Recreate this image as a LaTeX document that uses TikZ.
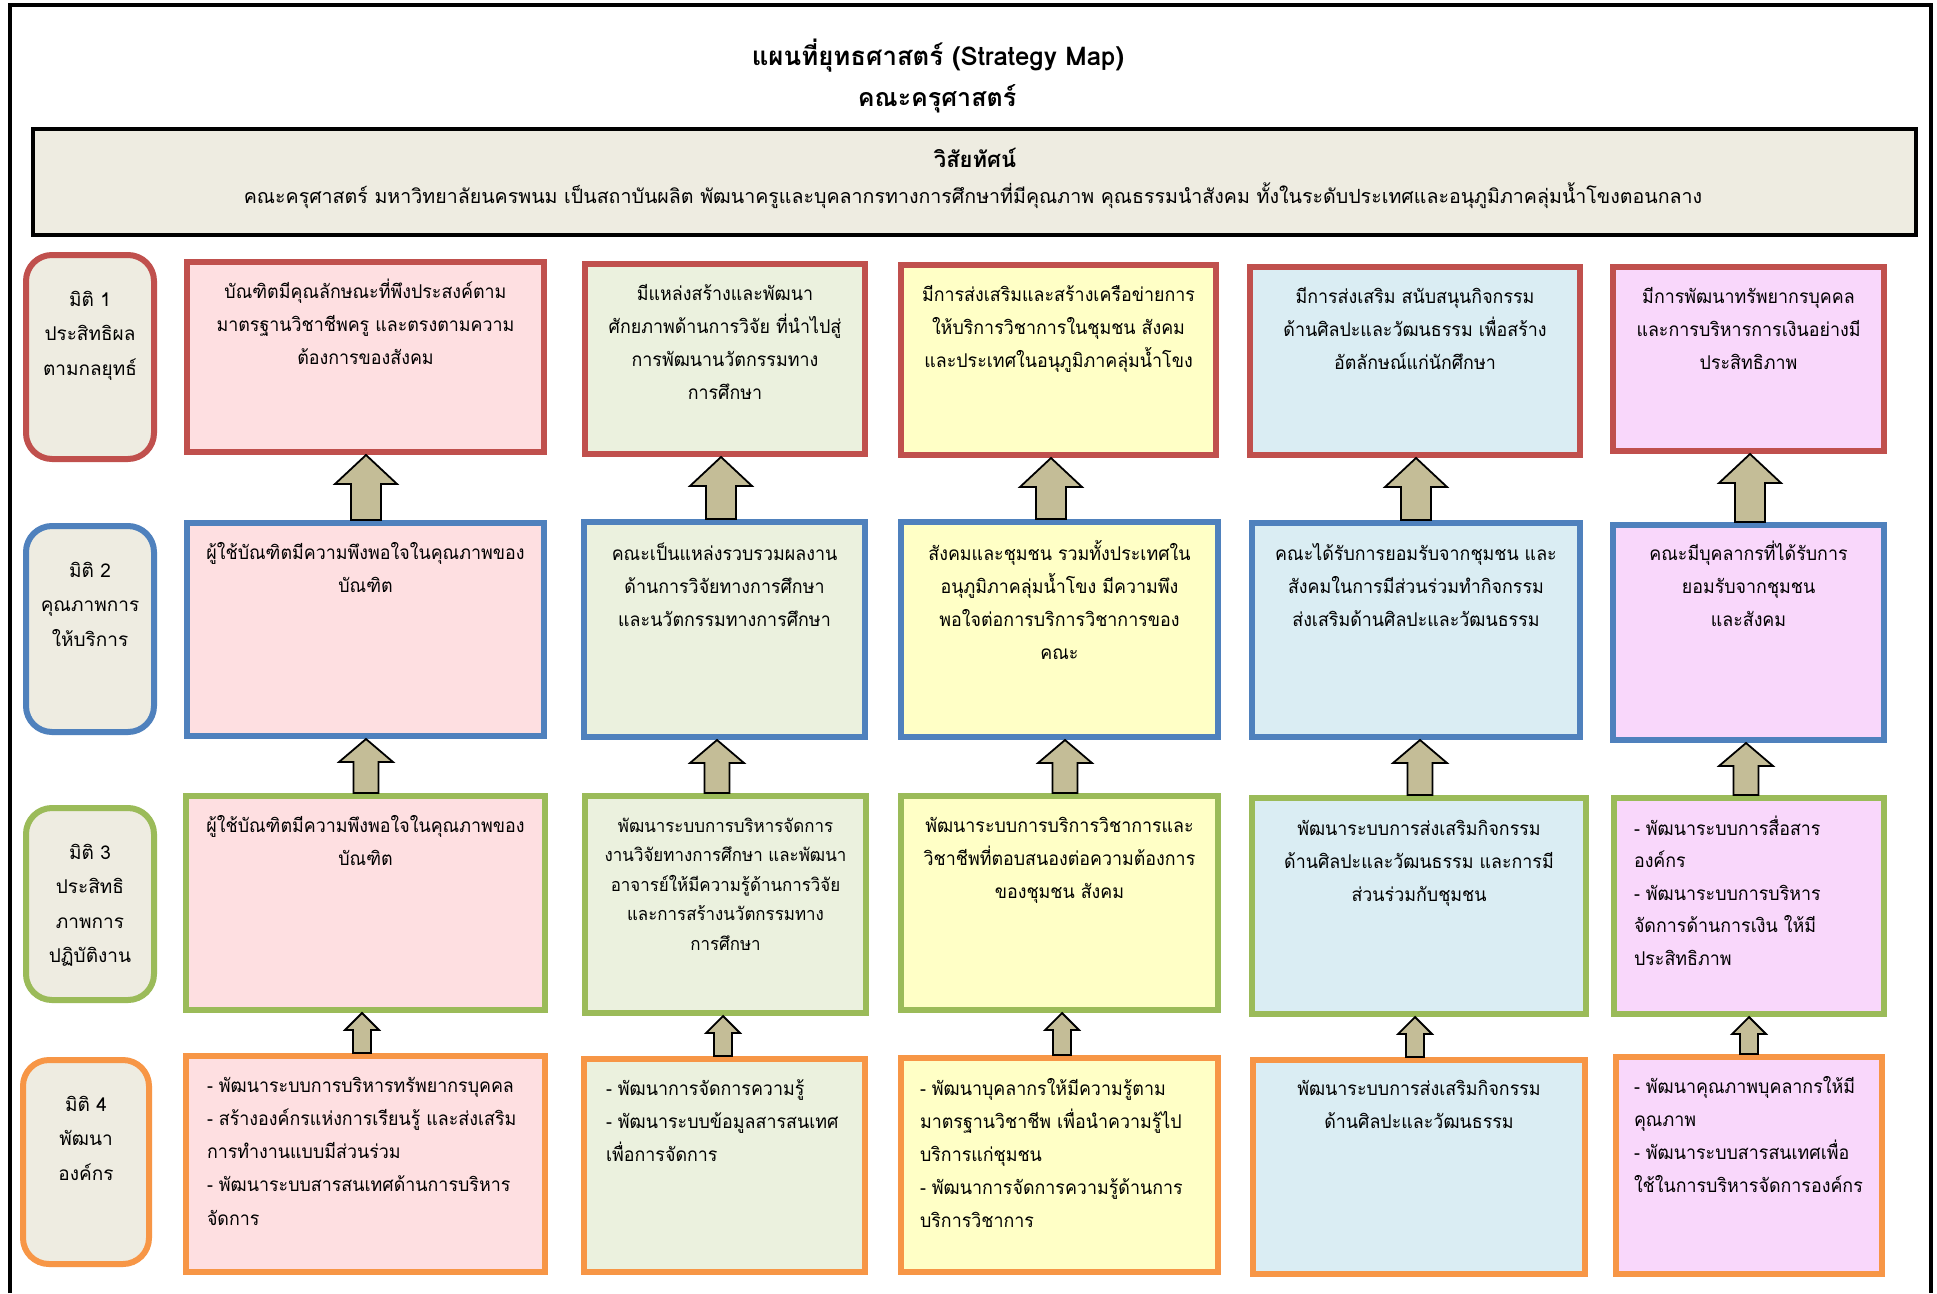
\documentclass[tikz,border=0pt]{standalone}
\usepackage{fontspec}
\setmainfont{Loma}[Script=Thai]
\newfontfamily\boxfont[Script=Thai,FakeStretch=0.94]{Loma}
\usetikzlibrary{calc}
\definecolor{redB}{HTML}{C0504D}
\definecolor{blueB}{HTML}{4F81BD}
\definecolor{greenB}{HTML}{9BBB59}
\definecolor{orangeB}{HTML}{F79646}
\definecolor{lblF}{HTML}{EEECE1}
\definecolor{pinkF}{HTML}{FEDFE1}
\definecolor{greenF}{HTML}{EBF1DE}
\definecolor{yellowF}{HTML}{FFFFC6}
\definecolor{blueF}{HTML}{DAEDF3}
\definecolor{violetF}{HTML}{F9D7FB}
\definecolor{arrowF}{HTML}{C4BD97}
\newcommand{\firststrut}[1][36]{\rule{0pt}{#1pt}}
\newcommand{\mapbox}[7]{%
  \node[mbox,#6] (#1) at ({(#2+#4)/2},{(#3+#5)/2})
    {\parbox[c][\dimexpr #5pt-#3pt-6pt\relax][t]{\dimexpr #4pt-#2pt-6pt\relax}{#7}};}
\newcommand{\blockup}[6]{%
  \draw[barrow] let \p1=(#1.north), \p2=(#2.south) in
    ({#3pt-#6pt},\y1) -- ({#3pt-#6pt},{\y2-#5pt}) -- ({#3pt-#4pt},{\y2-#5pt}) -- (#3pt,\y2)
    -- ({#3pt+#4pt},{\y2-#5pt}) -- ({#3pt+#6pt},{\y2-#5pt}) -- ({#3pt+#6pt},\y1) -- cycle;}
\tikzset{
  mbox/.style={rectangle, inner sep=0pt, line width=6pt, font=\boxfont\fontsize{19}{33}\selectfont},
  lbox/.style={mbox, rounded corners=26pt, fill=lblF, font=\rmfamily\fontsize{19}{34.5}\selectfont},
  barrow/.style={draw=black, line width=1.8pt, fill=arrowF, line join=miter},
  r1/.style={draw=redB}, r2/.style={draw=blueB}, r3/.style={draw=greenB}, r4/.style={draw=orangeB},
  c1/.style={fill=pinkF}, c2/.style={fill=greenF}, c3/.style={fill=yellowF}, c4/.style={fill=blueF}, c5/.style={fill=violetF}
}
\begin{document}
\begin{tikzpicture}[x=1pt,y=-1pt]
\useasboundingbox (0,0) rectangle (1937,1293);
\fill[white] (0,0) rectangle (1937,1293);
\draw[line width=3.5pt] (10,1293) -- (10,5) -- (1931,5) -- (1931,1293);
% titles
\node[font=\fontsize{25.8}{30}\selectfont\bfseries] (title) at (938,56) {แผนที่ยุทธศาสตร์ (Strategy Map)};
\node[font=\fontsize{25}{30}\selectfont\bfseries] (subtitle) at (937,99) {คณะครุศาสตร์};
% vision
\node[draw=black, line width=4pt, fill=lblF, minimum width=1883pt, minimum height=106pt, inner sep=0pt] (vis) at (974.5,182) {};
\node[font=\fontsize{22}{26}\selectfont\bfseries] (vish) at (975,158) {วิสัยทัศน์};
\node[font=\fontsize{19.6}{24}\selectfont] (vist) at (973,196) {คณะครุศาสตร์ มหาวิทยาลัยนครพนม เป็นสถาบันผลิต พัฒนาครูและบุคลากรทางการศึกษาที่มีคุณภาพ คุณธรรมนำสังคม ทั้งในระดับประเทศและอนุภูมิภาคลุ่มน้ำโขงตอนกลาง};
% labels
\mapbox{l1}{23}{252}{157}{462}{lbox,r1}{\centering\firststrut[51]มิติ 1\\ประสิทธิผล\\ตามกลยุทธ์\par}
\mapbox{l2}{23}{523}{157}{735}{lbox,r2}{\centering\firststrut[51]มิติ 2\\คุณภาพการ\\ให้บริการ\par}
\mapbox{l3}{23}{805}{157}{1003}{lbox,r3}{\centering\firststrut[51]มิติ 3\\ประสิทธิ\\ภาพการ\\ปฏิบัติงาน\par}
\mapbox{l4}{20}{1057}{152}{1267}{lbox,r4}{\centering\firststrut[51]มิติ 4\\พัฒนา\\องค์กร\par}
% row 1
\mapbox{r1c1}{184}{259}{547}{455}{r1,c1}{\centering\firststrut บัณฑิตมีคุณลักษณะที่พึงประสงค์ตาม\\มาตรฐานวิชาชีพครู และตรงตามความ\\ต้องการของสังคม\par}
\mapbox{r1c2}{582}{261}{868}{457}{r1,c2}{\centering\firststrut มีแหล่งสร้างและพัฒนา\\ศักยภาพด้านการวิจัย ที่นำไปสู่\\การพัฒนานวัตกรรมทาง\\การศึกษา\par}
\mapbox{r1c3}{898}{262}{1219}{458}{r1,c3}{\centering\firststrut มีการส่งเสริมและสร้างเครือข่ายการ\\ให้บริการวิชาการในชุมชน สังคม\\และประเทศในอนุภูมิภาคลุ่มน้ำโขง\par}
\mapbox{r1c4}{1247}{264}{1583}{458}{r1,c4}{\centering\firststrut มีการส่งเสริม สนับสนุนกิจกรรม\\ด้านศิลปะและวัฒนธรรม เพื่อสร้าง\\อัตลักษณ์แก่นักศึกษา\par}
\mapbox{r1c5}{1610}{264}{1887}{454}{r1,c5}{\centering\firststrut มีการพัฒนาทรัพยากรบุคคล\\และการบริหารการเงินอย่างมี\\ประสิทธิภาพ\par}
% row 2
\mapbox{r2c1}{184}{520}{547}{739}{r2,c1}{\centering\firststrut ผู้ใช้บัณฑิตมีความพึงพอใจในคุณภาพของ\\บัณฑิต\par}
\mapbox{r2c2}{581}{519}{868}{740}{r2,c2}{\centering\firststrut[38]คณะเป็นแหล่งรวบรวมผลงาน\\ด้านการวิจัยทางการศึกษา\\และนวัตกรรมทางการศึกษา\par}
\mapbox{r2c3}{898}{519}{1221}{740}{r2,c3}{\centering\firststrut[38]สังคมและชุมชน รวมทั้งประเทศใน\\อนุภูมิภาคลุ่มน้ำโขง มีความพึง\\พอใจต่อการบริการวิชาการของ\\คณะ\par}
\mapbox{r2c4}{1249}{520}{1583}{740}{r2,c4}{\centering\firststrut[37]คณะได้รับการยอมรับจากชุมชน และ\\สังคมในการมีส่วนร่วมทำกิจกรรม\\ส่งเสริมด้านศิลปะและวัฒนธรรม\par}
\mapbox{r2c5}{1610}{522}{1887}{743}{r2,c5}{\centering\firststrut[35]คณะมีบุคลากรที่ได้รับการ\\ยอมรับจากชุมชน\\และสังคม\par}
% row 3
\mapbox{r3c1}{183}{793}{548}{1013}{r3,c1}{\centering\firststrut ผู้ใช้บัณฑิตมีความพึงพอใจในคุณภาพของ\\บัณฑิต\par}
\mapbox{r3c2}{582}{793}{869}{1016}{r3,c2}{\fontsize{18}{29.5}\selectfont\centering\firststrut[36]พัฒนาระบบการบริหารจัดการ\\งานวิจัยทางการศึกษา และพัฒนา\\อาจารย์ให้มีความรู้ด้านการวิจัย\\และการสร้างนวัตกรรมทาง\\การศึกษา\par}
\mapbox{r3c3}{898}{793}{1221}{1013}{r3,c3}{\centering\firststrut พัฒนาระบบการบริการวิชาการและ\\วิชาชีพที่ตอบสนองต่อความต้องการ\\ของชุมชน สังคม\par}
\mapbox{r3c4}{1249}{795}{1589}{1017}{r3,c4}{\centering\firststrut[37]พัฒนาระบบการส่งเสริมกิจกรรม\\ด้านศิลปะและวัฒนธรรม และการมี\\ส่วนร่วมกับชุมชน\par}
\mapbox{r3c5}{1611}{795}{1887}{1017}{r3,c5}{\raggedright\leftskip=20pt\fontsize{19}{32.5}\selectfont\firststrut[37]- พัฒนาระบบการสื่อสาร\\องค์กร\\- พัฒนาระบบการบริหาร\\จัดการด้านการเงิน ให้มี\\ประสิทธิภาพ\par}
% row 4
\mapbox{r4c1}{183}{1053}{548}{1275}{r4,c1}{\raggedright\leftskip=21pt\fontsize{19}{33.3}\selectfont\firststrut - พัฒนาระบบการบริหารทรัพยากรบุคคล\\- สร้างองค์กรแห่งการเรียนรู้ และส่งเสริม\\การทำงานแบบมีส่วนร่วม\\- พัฒนาระบบสารสนเทศด้านการบริหาร\\จัดการ\par}
\mapbox{r4c2}{581}{1056}{868}{1275}{r4,c2}{\raggedright\leftskip=22pt\firststrut - พัฒนาการจัดการความรู้\\- พัฒนาระบบข้อมูลสารสนเทศ\\เพื่อการจัดการ\par}
\mapbox{r4c3}{898}{1055}{1221}{1275}{r4,c3}{\raggedright\leftskip=19pt\firststrut[37]- พัฒนาบุคลากรให้มีความรู้ตาม\\มาตรฐานวิชาชีพ เพื่อนำความรู้ไป\\บริการแก่ชุมชน\\- พัฒนาการจัดการความรู้ด้านการ\\บริการวิชาการ\par}
\mapbox{r4c4}{1250}{1057}{1588}{1277}{r4,c4}{\centering\firststrut[35]พัฒนาระบบการส่งเสริมกิจกรรม\\ด้านศิลปะและวัฒนธรรม\par}
\mapbox{r4c5}{1613}{1054}{1885}{1277}{r4,c5}{\raggedright\leftskip=18pt\firststrut - พัฒนาคุณภาพบุคลากรให้มี\\คุณภาพ\\- พัฒนาระบบสารสนเทศเพื่อ\\ใช้ในการบริหารจัดการองค์กร\par}
% arrows row 2 -> row 1
\blockup{r2c1}{r1c1}{366}{31}{29}{15}
\blockup{r2c2}{r1c2}{721}{31}{29}{15}
\blockup{r2c3}{r1c3}{1051}{31}{29}{15}
\blockup{r2c4}{r1c4}{1416}{31}{29}{15}
\blockup{r2c5}{r1c5}{1750}{31}{29}{15}
% arrows row 3 -> row 2
\blockup{r3c1}{r2c1}{366}{27}{23}{12.5}
\blockup{r3c2}{r2c2}{717}{27}{23}{12.5}
\blockup{r3c3}{r2c3}{1065}{27}{23}{12.5}
\blockup{r3c4}{r2c4}{1420}{27}{23}{12.5}
\blockup{r3c5}{r2c5}{1746}{27}{23}{12.5}
% arrows row 4 -> row 3
\blockup{r4c1}{r3c1}{362}{17}{17}{9}
\blockup{r4c2}{r3c2}{723}{17}{17}{9}
\blockup{r4c3}{r3c3}{1062}{17}{17}{9}
\blockup{r4c4}{r3c4}{1415}{17}{17}{9}
\blockup{r4c5}{r3c5}{1749}{17}{17}{9}
\end{tikzpicture}
\end{document}
